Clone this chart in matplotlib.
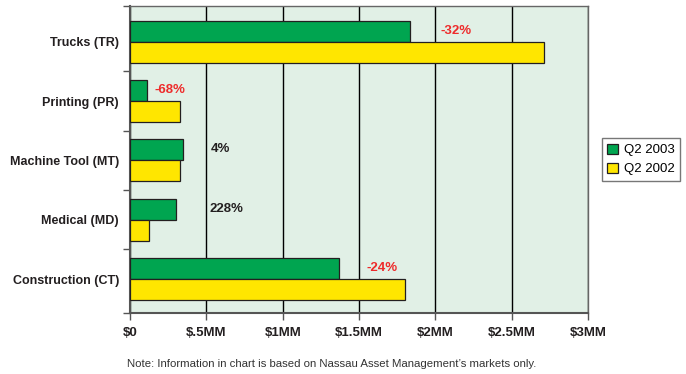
import numpy as np
import matplotlib.pyplot as plt

plt.rcParams['font.family'] = ['Liberation Sans', 'DejaVu Sans']

# data (values in $MM)
categories = ['Trucks (TR)', 'Printing (PR)', 'Machine Tool (MT)', 'Medical (MD)', 'Construction (CT)']
q2_2003 = [1.83, 0.11, 0.35, 0.30, 1.37]
q2_2002 = [2.71, 0.33, 0.33, 0.125, 1.80]
changes = ['-32%', '-68%', '4%', '228%', '-24%']
change_colors = ['#EE2B2B', '#EE2B2B', '#231F20', '#231F20', '#EE2B2B']
xticks = [0, 0.5, 1, 1.5, 2, 2.5, 3]
xticklabels = ['$0', '$.5MM', '$1MM', '$1.5MM', '$2MM', '$2.5MM', '$3MM']

green = '#00A550'
yellow = '#FFE600'
bg = '#E1F0E6'
dark = '#231F20'

fig = plt.figure(figsize=(6.86, 3.74), dpi=100)
ax = fig.add_axes([0.1895, 0.163, 0.668, 0.821])
ax.set_facecolor(bg)

y = np.arange(len(categories))
h = 0.354
ax.barh(y - h / 2, q2_2003, h, color=green, edgecolor=dark, linewidth=0.9, label='Q2 2003', zorder=3)
ax.barh(y + h / 2, q2_2002, h, color=yellow, edgecolor=dark, linewidth=0.9, label='Q2 2002', zorder=3)

# percent change labels, placed to the right of the Q2 2003 bar
label_gap = [0.20, 0.05, 0.18, 0.22, 0.18]
for i, (a, txt, c) in enumerate(zip(q2_2003, changes, change_colors)):
    ax.text(a + label_gap[i], i - h / 2 - 0.01, txt, color=c, fontsize=9.5, fontweight='bold',
            ha='left', va='center', zorder=4)

ylo, yhi = -0.6, len(categories) - 0.43
ax.set_xlim(0, 3)
ax.set_ylim(yhi, ylo)
ax.set_xticks(xticks)
ax.set_xticklabels(xticklabels, fontsize=9.5, fontweight='bold', color=dark)
ax.set_yticks(y)
ax.set_yticklabels(categories, fontsize=9, fontweight='bold', color=dark)
ax.set_yticks([ylo] + list(np.arange(1, len(categories)) - 0.5) + [yhi], minor=True)
ax.tick_params(axis='y', which='major', length=0, pad=8)
ax.tick_params(axis='y', which='minor', length=5, width=1, color='#555555', direction='out')
ax.tick_params(axis='x', length=5, width=1, color='#555555', direction='out', pad=5)
ax.grid(axis='x', color='black', linewidth=1, zorder=1)
for side in ['top', 'right']:
    ax.spines[side].set_color('#666666')
    ax.spines[side].set_linewidth(1)
ax.spines['left'].set_color('#555555')
ax.spines['left'].set_linewidth(1.5)
ax.spines['bottom'].set_color('#555555')
ax.spines['bottom'].set_linewidth(1.5)

leg = ax.legend(loc='center left', bbox_to_anchor=(1.015, 0.5), fontsize=9.5, frameon=True,
                fancybox=False, edgecolor='#555555', handlelength=0.8, handleheight=0.8,
                handletextpad=0.5, borderpad=0.4, labelspacing=0.5)
leg.get_frame().set_linewidth(1)

fig.text(0.484, 0.027, "Note: Information in chart is based on Nassau Asset Management\u2019s markets only.",
         ha='center', va='center', fontsize=8.2, color='#333333')

fig.savefig('out.png', dpi=100)
